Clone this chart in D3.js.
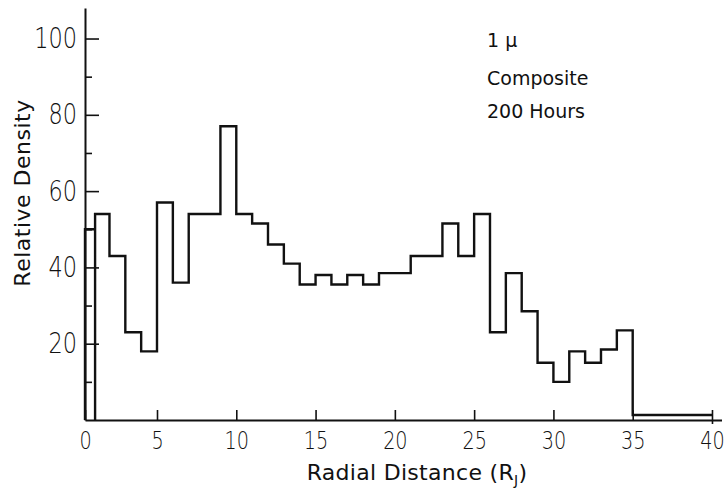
<!DOCTYPE html>
<html>
<head>
<meta charset="utf-8">
<script src="https://cdn.jsdelivr.net/npm/d3@7"></script>
<style>
  html, body { margin: 0; padding: 0; background: #fff; }
  svg { display: block; }
  text { font-family: "DejaVu Sans", sans-serif; fill: #111; }
</style>
</head>
<body>
<svg id="chart" width="725" height="494"></svg>
<script>
// ---- data ----
const binEdges = [0, 0.7, 1.7, 2.8, 3.9, 5, 6, 7, 9, 10, 11, 12, 13, 14, 15, 16, 17, 18, 19, 21, 23, 24, 25, 26, 27, 28, 29, 30, 31, 32, 33, 34, 35, 40];
const density  = [50, 54, 43, 23, 18, 57, 36, 54, 77, 54, 51.5, 46, 41, 35.5, 38, 35.5, 38, 35.5, 38.5, 43, 51.5, 43, 54, 23, 38.5, 28.5, 15, 10, 18, 15, 18.5, 23.5, 1.3];
const xTickValues = [0, 5, 10, 15, 20, 25, 30, 35, 40];
const yMajorTicks = [20, 40, 60, 80, 100];
const yMinorTicks = [10, 30, 50, 70, 90];
const annotationLines = ["1 \u03bc", "Composite", "200 Hours"];
const xTitle = "Radial Distance (R";
const xTitleSub = "J";
const yTitle = "Relative Density";

// ---- scales ----
const svg = d3.select("#chart");
const x = d3.scaleLinear().domain([0, 5, 40.6]).range([85, 157, 721.5]);
const y = d3.scaleLinear().domain([0, 108]).range([420, 8]);
const digitScale = 0.8;
const tickFont = "Lato, 'DejaVu Sans', sans-serif";

// ---- y axis ----
const yAxisG = svg.append("g").attr("transform", `translate(${x(0)},0)`)
  .call(d3.axisLeft(y).tickValues(yMajorTicks).tickSizeInner(-14).tickSizeOuter(0).tickPadding(8));
yAxisG.select(".domain").attr("stroke", "#111").attr("stroke-width", 2);
yAxisG.selectAll(".tick line").attr("stroke", "#111").attr("stroke-width", 1.6);
yAxisG.selectAll(".tick text")
  .attr("font-size", 28)
  .attr("font-weight", 300)
  .attr("fill", "#000")
  .attr("x", -8 / digitScale)
  .attr("transform", `scale(${digitScale},1)`)
  .attr("font-family", tickFont);
const yMinorG = svg.append("g").attr("transform", `translate(${x(0)},0)`)
  .call(d3.axisLeft(y).tickValues(yMinorTicks).tickSizeInner(-7).tickSizeOuter(0).tickFormat(""));
yMinorG.select(".domain").remove();
yMinorG.selectAll(".tick line").attr("stroke", "#111").attr("stroke-width", 1.6);

// ---- x axis ----
const xAxisG = svg.append("g").attr("transform", `translate(0,${y(0)})`)
  .call(d3.axisBottom(x).tickValues(xTickValues).tickSizeInner(-10).tickSizeOuter(0).tickPadding(0));
xAxisG.select(".domain").attr("stroke", "#111").attr("stroke-width", 2);
xAxisG.selectAll(".tick line").attr("stroke", "#111").attr("stroke-width", 1.6);
xAxisG.selectAll(".tick text")
  .attr("font-size", 24)
  .attr("font-weight", 300)
  .attr("fill", "#000")
  .attr("y", 29)
  .attr("dy", "0")
  .attr("transform", `scale(${digitScale},1)`)
  .attr("font-family", tickFont);
// small downward tick at the right end (cross mark)
const xEndG = svg.append("g").attr("transform", `translate(0,${y(0)})`)
  .call(d3.axisBottom(x).tickValues([40]).tickSizeInner(4).tickSizeOuter(0).tickFormat(""));
xEndG.select(".domain").remove();
xEndG.selectAll(".tick line").attr("stroke", "#111").attr("stroke-width", 1.6);

// ---- histogram outline ----
let d = `M${x(binEdges[0])},${y(0)}`;
density.forEach((v, i) => {
  d += `V${y(v)}H${x(binEdges[i + 1])}`;
  if (i === 0) d += `V${y(0)}`;
});
svg.append("path")
  .attr("d", d)
  .attr("fill", "none")
  .attr("stroke", "#111")
  .attr("stroke-width", 2.4)
  .attr("stroke-linejoin", "miter");

// ---- titles ----
const xt = svg.append("text")
  .attr("x", 417).attr("y", 480)
  .attr("text-anchor", "middle")
  .attr("font-size", 22)
  .attr("letter-spacing", 0.3);
xt.append("tspan").text(xTitle);
xt.append("tspan").attr("font-size", 14).attr("dy", 5).text(xTitleSub);
xt.append("tspan").attr("dy", -5).text(")");

svg.append("text")
  .attr("transform", `translate(30,193) rotate(-90)`)
  .attr("text-anchor", "middle")
  .attr("font-size", 22)
  .attr("letter-spacing", 0.5)
  .text(yTitle);

// ---- annotation ----
svg.append("g").selectAll("text")
  .data(annotationLines)
  .join("text")
  .attr("x", 487)
  .attr("y", (t, i) => [47, 85, 118][i])
  .attr("font-size", 19)
  .attr("letter-spacing", 0)
  .text(t => t);
</script>
</body>
</html>
